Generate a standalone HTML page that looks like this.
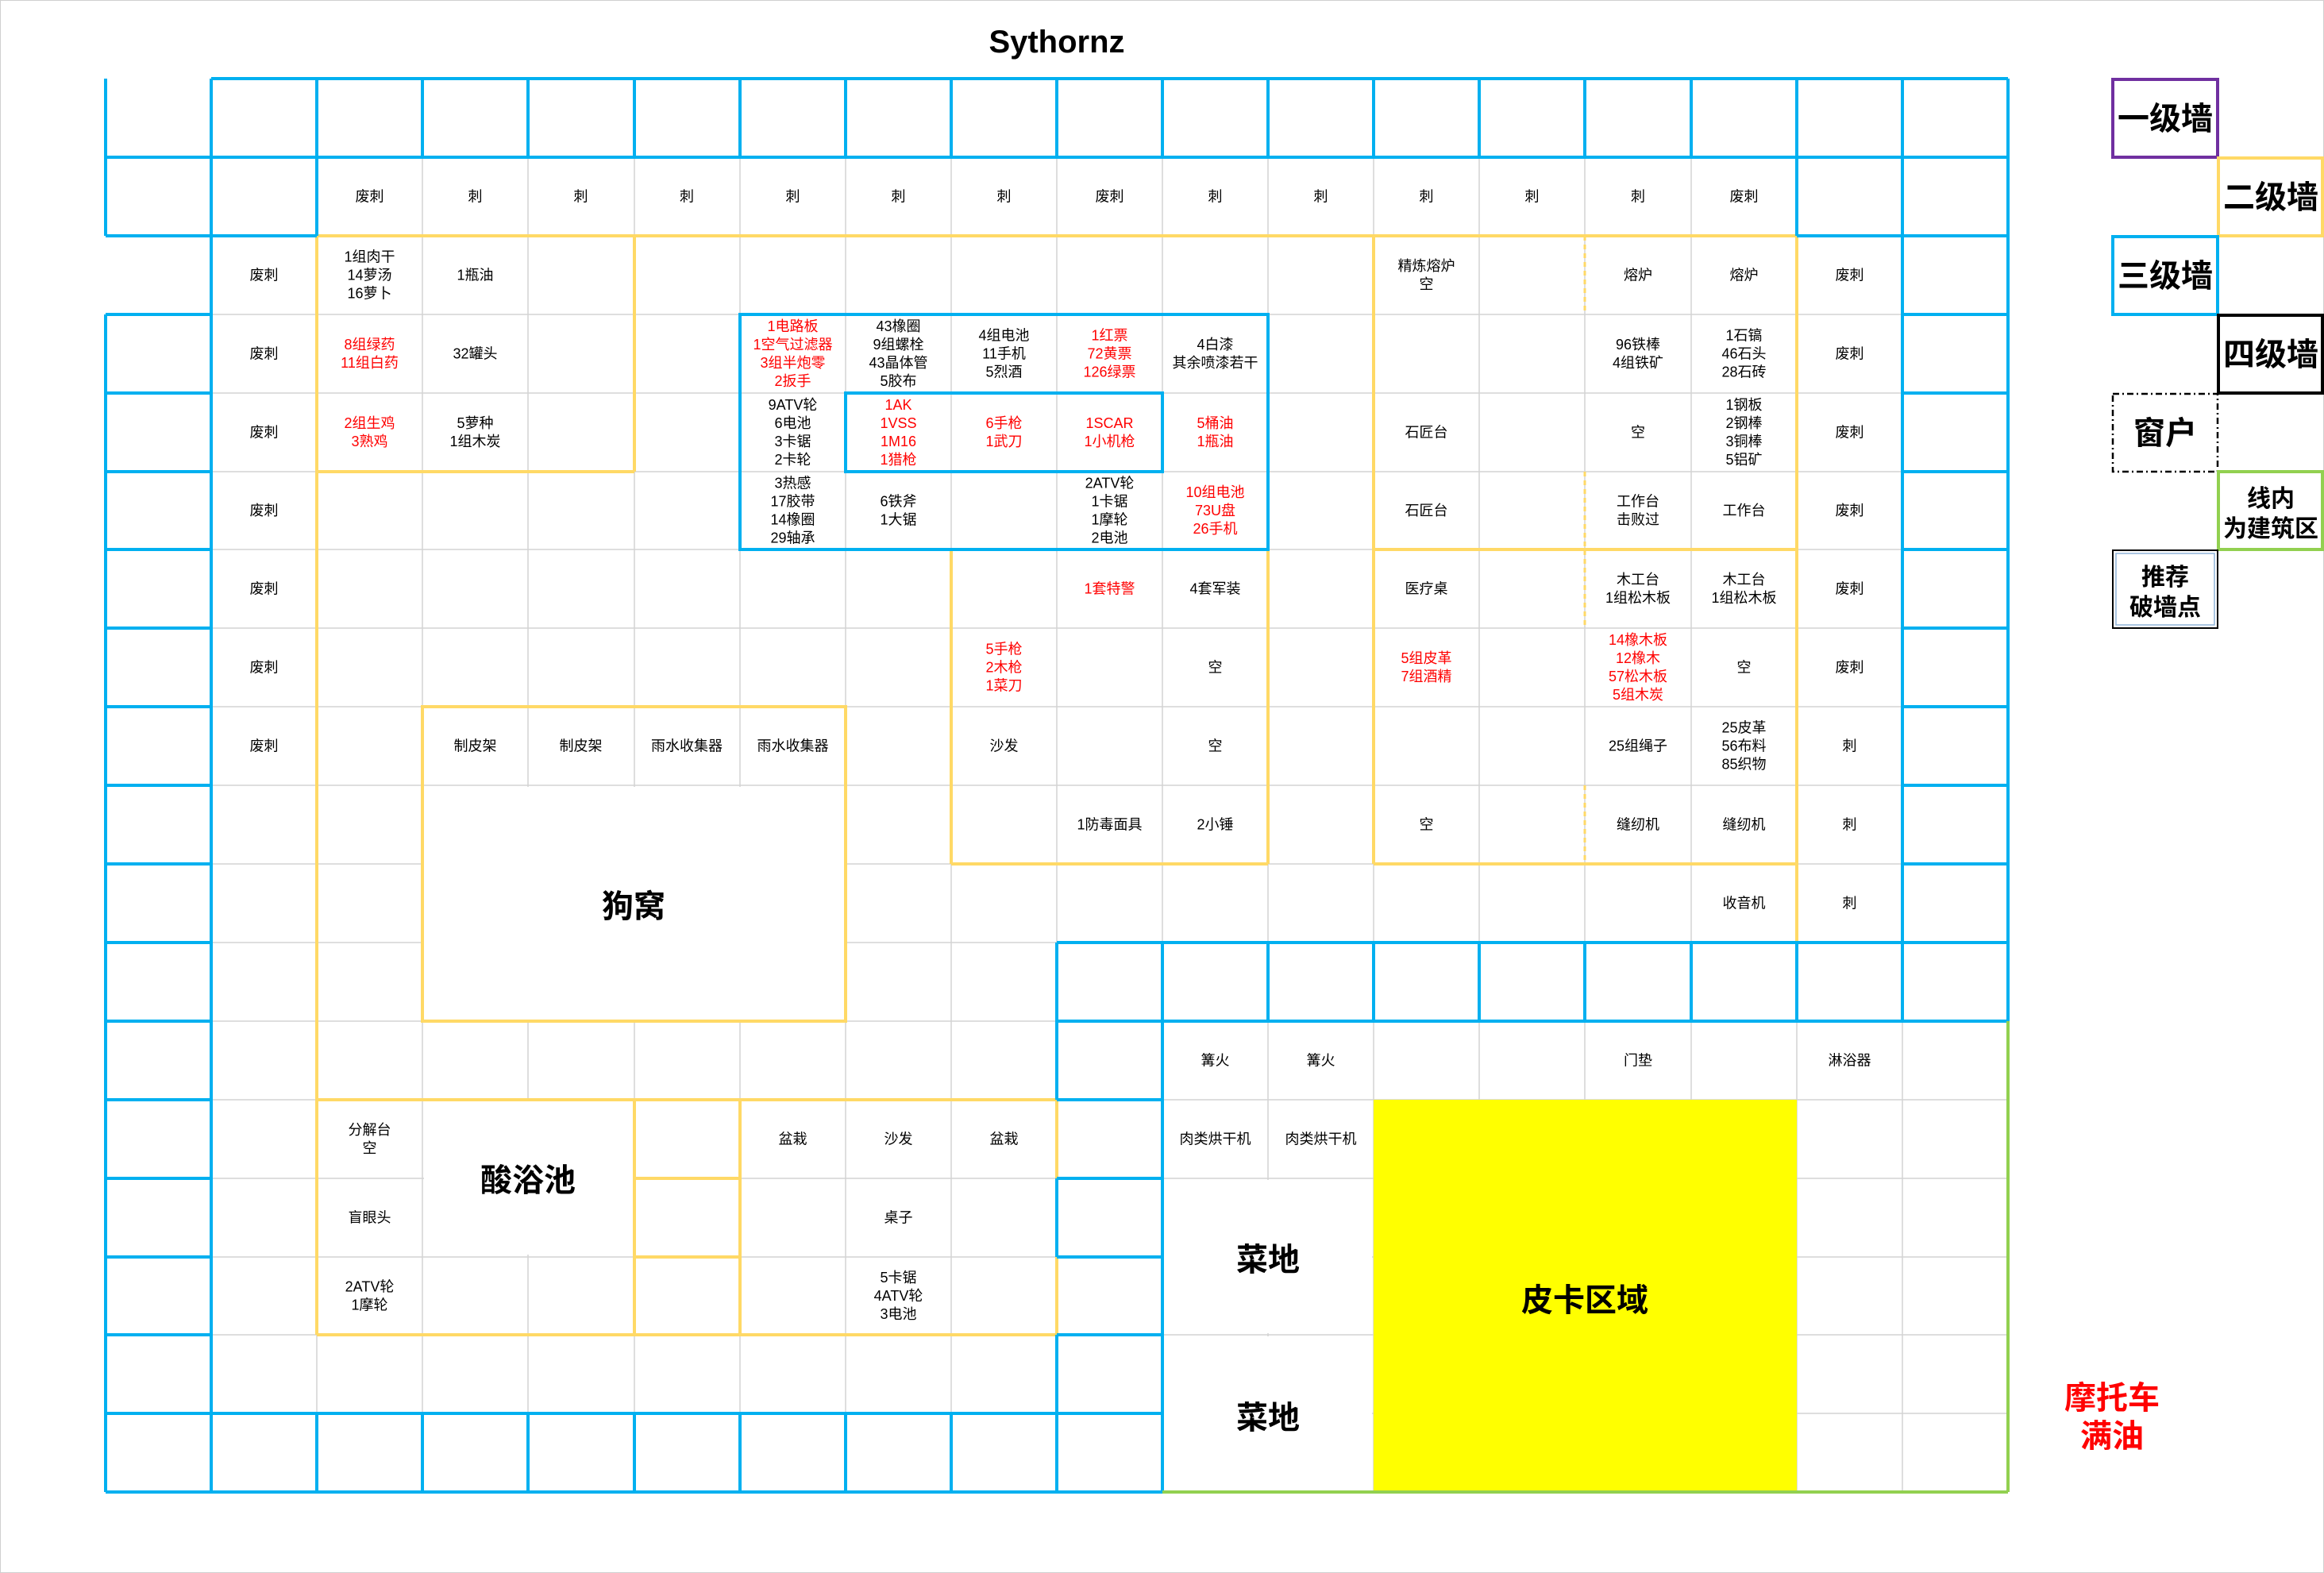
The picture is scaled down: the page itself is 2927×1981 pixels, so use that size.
<!DOCTYPE html>
<html><head><meta charset="utf-8"><style>
html,body{margin:0;padding:0;background:#fff}
svg{display:block}
text{font-family:"Liberation Sans","Noto Sans CJK SC",sans-serif;font-size:18px;text-anchor:middle;fill:#000}
.r{fill:#ff0000}
.big{font-size:40px;font-weight:bold}
.lg{font-size:40px;font-weight:bold}
.lm{font-size:30px;font-weight:bold}
</style></head><body>
<svg width="2927" height="1981" viewBox="0 0 2927 1981" xmlns="http://www.w3.org/2000/svg">
<rect x="0" y="0" width="2927" height="1981" fill="#fff" stroke="#d0d0d0" stroke-width="2"/>
<text x="1331" y="66" style="font-size:40px;font-weight:bold">Sythornz</text>

<!-- gray grid -->
<path stroke="#d4d4d4" stroke-width="1.5" fill="none" d="
M266 99V1879 M399 99V1879 M532 99V1879 M665 99V1879 M799 99V1879 M932 99V1879 M1065 99V1879 M1198 99V1879 M1331 99V1879 M1464 99V1879 M1597 99V1879 M1730 99V1879 M1863 99V1879 M1996 99V1879 M2130 99V1879 M2263 99V1879 M2396 99V1879
M133 198H2529 M266 297H2529 M133 396H2529 M133 495H2529 M133 594H2529 M133 692H2529 M133 791H2529 M133 890H2529 M133 989H2529 M133 1088H2529 M133 1187H2529 M133 1286H2529 M133 1385H2529 M133 1484H2529 M133 1583H2529 M133 1681H2529 M133 1780H2529"/>

<!-- merged white areas -->
<rect x="534" y="991" width="529" height="293" fill="#fff"/>
<rect x="534" y="1387" width="263" height="193" fill="#fff"/>
<rect x="1466" y="1486" width="262" height="193" fill="#fff"/>
<rect x="1466" y="1683" width="262" height="194" fill="#fff"/>
<rect x="1730" y="1385" width="533" height="494" fill="#ffff00"/>

<!-- yellow lines -->
<path stroke="#ffd966" stroke-width="4" fill="none" d="
M399 297H2263 M399 297V1681 M799 297V594 M399 594H799
M1730 297V1088 M2263 297V1187 M1730 692H2263 M1730 1088H2263
M1198 692V1088 M1597 692V1088 M1198 1088H1597
M532 890H1065V1286H532Z
M399 1385H1331 M399 1681H1331 M799 1385V1681 M932 1385V1681 M799 1484H932 M799 1583H932 M1331 1385V1681"/>
<path stroke="#ffd966" stroke-width="3" stroke-dasharray="6 5" fill="none" d="M1996 297V396 M1996 594V791 M1996 989V1088"/>

<!-- blue lines -->
<path stroke="#00b0f0" stroke-width="4" fill="none" d="
M266 99H2529 M133 198H2529 M133 297H399 M2263 297H2529
M133 99V297 M133 396V1879
M133 396H266 M133 495H266 M133 594H266 M133 692H266 M133 791H266 M133 890H266 M133 989H266 M133 1088H266 M133 1187H266 M133 1286H266 M133 1385H266 M133 1484H266 M133 1583H266 M133 1681H266 M133 1780H266
M266 99V1879 M399 99V297
M532 99V198 M665 99V198 M799 99V198 M932 99V198 M1065 99V198 M1198 99V198 M1331 99V198 M1464 99V198 M1597 99V198 M1730 99V198 M1863 99V198 M1996 99V198 M2130 99V198
M2263 99V297 M2396 99V1286 M2529 99V1286
M2396 396H2529 M2396 495H2529 M2396 594H2529 M2396 692H2529 M2396 791H2529 M2396 890H2529 M2396 989H2529 M2396 1088H2529
M1331 1187H2529 M1331 1286H2529
M1464 1187V1286 M1597 1187V1286 M1730 1187V1286 M1863 1187V1286 M1996 1187V1286 M2130 1187V1286 M2263 1187V1286
M1331 1187V1385 M1331 1484V1583 M1331 1681V1879 M1464 1286V1879
M1331 1385H1464 M1331 1484H1464 M1331 1583H1464 M1331 1681H1464
M133 1780H1464 M133 1879H1464
M399 1780V1879 M532 1780V1879 M665 1780V1879 M799 1780V1879 M932 1780V1879 M1065 1780V1879 M1198 1780V1879
M932 396H1597V692H932Z M1065 495H1464V594H1065Z"/>

<!-- green -->
<path stroke="#92d050" stroke-width="4" fill="none" d="M2529 1286V1879 M1464 1879H2529"/>

<!-- row 1 -->
<text x="465.5" y="253.5">废刺</text><text x="598.5" y="253.5">刺</text><text x="731.5" y="253.5">刺</text><text x="865" y="253.5">刺</text><text x="998.5" y="253.5">刺</text><text x="1131.5" y="253.5">刺</text><text x="1264.5" y="253.5">刺</text><text x="1397.5" y="253.5">废刺</text><text x="1530.5" y="253.5">刺</text><text x="1663.5" y="253.5">刺</text><text x="1796.5" y="253.5">刺</text><text x="1929.5" y="253.5">刺</text><text x="2063" y="253.5">刺</text><text x="2196.5" y="253.5">废刺</text>

<!-- col1 废刺 -->
<text x="332.5" y="352.5">废刺</text><text x="332.5" y="451.5">废刺</text><text x="332.5" y="550.5">废刺</text><text x="332.5" y="649">废刺</text><text x="332.5" y="747.5">废刺</text><text x="332.5" y="846.5">废刺</text><text x="332.5" y="945.5">废刺</text>
<!-- col16 -->
<text x="2329.5" y="352.5">废刺</text><text x="2329.5" y="451.5">废刺</text><text x="2329.5" y="550.5">废刺</text><text x="2329.5" y="649">废刺</text><text x="2329.5" y="747.5">废刺</text><text x="2329.5" y="846.5">废刺</text><text x="2329.5" y="945.5">刺</text><text x="2329.5" y="1044.5">刺</text><text x="2329.5" y="1143.5">刺</text>

<!-- row 2 -->
<text x="465.5" y="329.5"><tspan x="465.5">1组肉干</tspan><tspan x="465.5" dy="23">14萝汤</tspan><tspan x="465.5" dy="23">16萝卜</tspan></text>
<text x="598.5" y="352.5">1瓶油</text>
<text x="1796.5" y="341"><tspan x="1796.5">精炼熔炉</tspan><tspan x="1796.5" dy="23">空</tspan></text>
<text x="2063" y="352.5">熔炉</text><text x="2196.5" y="352.5">熔炉</text>

<!-- row 3 -->
<text class="r" x="465.5" y="440"><tspan x="465.5">8组绿药</tspan><tspan x="465.5" dy="23">11组白药</tspan></text>
<text x="598.5" y="451.5">32罐头</text>
<text class="r" x="998.5" y="417"><tspan x="998.5">1电路板</tspan><tspan x="998.5" dy="23">1空气过滤器</tspan><tspan x="998.5" dy="23">3组半炮零</tspan><tspan x="998.5" dy="23">2扳手</tspan></text>
<text x="1131.5" y="417"><tspan x="1131.5">43橡圈</tspan><tspan x="1131.5" dy="23">9组螺栓</tspan><tspan x="1131.5" dy="23">43晶体管</tspan><tspan x="1131.5" dy="23">5胶布</tspan></text>
<text x="1264.5" y="428.5"><tspan x="1264.5">4组电池</tspan><tspan x="1264.5" dy="23">11手机</tspan><tspan x="1264.5" dy="23">5烈酒</tspan></text>
<text class="r" x="1397.5" y="428.5"><tspan x="1397.5">1红票</tspan><tspan x="1397.5" dy="23">72黄票</tspan><tspan x="1397.5" dy="23">126绿票</tspan></text>
<text x="1530.5" y="440"><tspan x="1530.5">4白漆</tspan><tspan x="1530.5" dy="23">其余喷漆若干</tspan></text>
<text x="2063" y="440"><tspan x="2063">96铁棒</tspan><tspan x="2063" dy="23">4组铁矿</tspan></text>
<text x="2196.5" y="428.5"><tspan x="2196.5">1石镐</tspan><tspan x="2196.5" dy="23">46石头</tspan><tspan x="2196.5" dy="23">28石砖</tspan></text>

<!-- row 4 -->
<text class="r" x="465.5" y="539"><tspan x="465.5">2组生鸡</tspan><tspan x="465.5" dy="23">3熟鸡</tspan></text>
<text x="598.5" y="539"><tspan x="598.5">5萝种</tspan><tspan x="598.5" dy="23">1组木炭</tspan></text>
<text x="998.5" y="516"><tspan x="998.5">9ATV轮</tspan><tspan x="998.5" dy="23">6电池</tspan><tspan x="998.5" dy="23">3卡锯</tspan><tspan x="998.5" dy="23">2卡轮</tspan></text>
<text class="r" x="1131.5" y="516"><tspan x="1131.5">1AK</tspan><tspan x="1131.5" dy="23">1VSS</tspan><tspan x="1131.5" dy="23">1M16</tspan><tspan x="1131.5" dy="23">1猎枪</tspan></text>
<text class="r" x="1264.5" y="539"><tspan x="1264.5">6手枪</tspan><tspan x="1264.5" dy="23">1武刀</tspan></text>
<text class="r" x="1397.5" y="539"><tspan x="1397.5">1SCAR</tspan><tspan x="1397.5" dy="23">1小机枪</tspan></text>
<text class="r" x="1530.5" y="539"><tspan x="1530.5">5桶油</tspan><tspan x="1530.5" dy="23">1瓶油</tspan></text>
<text x="1796.5" y="550.5">石匠台</text>
<text x="2063" y="550.5">空</text>
<text x="2196.5" y="516"><tspan x="2196.5">1钢板</tspan><tspan x="2196.5" dy="23">2钢棒</tspan><tspan x="2196.5" dy="23">3铜棒</tspan><tspan x="2196.5" dy="23">5铝矿</tspan></text>

<!-- row 5 -->
<text x="998.5" y="614.5"><tspan x="998.5">3热感</tspan><tspan x="998.5" dy="23">17胶带</tspan><tspan x="998.5" dy="23">14橡圈</tspan><tspan x="998.5" dy="23">29轴承</tspan></text>
<text x="1131.5" y="637.5"><tspan x="1131.5">6铁斧</tspan><tspan x="1131.5" dy="23">1大锯</tspan></text>
<text x="1397.5" y="614.5"><tspan x="1397.5">2ATV轮</tspan><tspan x="1397.5" dy="23">1卡锯</tspan><tspan x="1397.5" dy="23">1摩轮</tspan><tspan x="1397.5" dy="23">2电池</tspan></text>
<text class="r" x="1530.5" y="626"><tspan x="1530.5">10组电池</tspan><tspan x="1530.5" dy="23">73U盘</tspan><tspan x="1530.5" dy="23">26手机</tspan></text>
<text x="1796.5" y="649">石匠台</text>
<text x="2063" y="637.5"><tspan x="2063">工作台</tspan><tspan x="2063" dy="23">击败过</tspan></text>
<text x="2196.5" y="649">工作台</text>

<!-- row 6 -->
<text class="r" x="1397.5" y="747.5">1套特警</text>
<text x="1530.5" y="747.5">4套军装</text>
<text x="1796.5" y="747.5">医疗桌</text>
<text x="2063" y="736"><tspan x="2063">木工台</tspan><tspan x="2063" dy="23">1组松木板</tspan></text>
<text x="2196.5" y="736"><tspan x="2196.5">木工台</tspan><tspan x="2196.5" dy="23">1组松木板</tspan></text>

<!-- row 7 -->
<text class="r" x="1264.5" y="823.5"><tspan x="1264.5">5手枪</tspan><tspan x="1264.5" dy="23">2木枪</tspan><tspan x="1264.5" dy="23">1菜刀</tspan></text>
<text x="1530.5" y="846.5">空</text>
<text class="r" x="1796.5" y="835"><tspan x="1796.5">5组皮革</tspan><tspan x="1796.5" dy="23">7组酒精</tspan></text>
<text class="r" x="2063" y="812"><tspan x="2063">14橡木板</tspan><tspan x="2063" dy="23">12橡木</tspan><tspan x="2063" dy="23">57松木板</tspan><tspan x="2063" dy="23">5组木炭</tspan></text>
<text x="2196.5" y="846.5">空</text>

<!-- row 8 -->
<text x="598.5" y="945.5">制皮架</text><text x="731.5" y="945.5">制皮架</text><text x="865" y="945.5">雨水收集器</text><text x="998.5" y="945.5">雨水收集器</text>
<text x="1264.5" y="945.5">沙发</text>
<text x="1530.5" y="945.5">空</text>
<text x="2063" y="945.5">25组绳子</text>
<text x="2196.5" y="922.5"><tspan x="2196.5">25皮革</tspan><tspan x="2196.5" dy="23">56布料</tspan><tspan x="2196.5" dy="23">85织物</tspan></text>

<!-- row 9 -->
<text x="1397.5" y="1044.5">1防毒面具</text><text x="1530.5" y="1044.5">2小锤</text>
<text x="1796.5" y="1044.5">空</text>
<text x="2063" y="1044.5">缝纫机</text><text x="2196.5" y="1044.5">缝纫机</text>
<!-- row 10 -->
<text x="2196.5" y="1143.5">收音机</text>

<!-- row 12 -->
<text x="1530.5" y="1341.5">篝火</text><text x="1663.5" y="1341.5">篝火</text>
<text x="2063" y="1341.5">门垫</text><text x="2329.5" y="1341.5">淋浴器</text>

<!-- row 13 -->
<text x="465.5" y="1429"><tspan x="465.5">分解台</tspan><tspan x="465.5" dy="23">空</tspan></text>
<text x="998.5" y="1440.5">盆栽</text><text x="1131.5" y="1440.5">沙发</text><text x="1264.5" y="1440.5">盆栽</text>
<text x="1530.5" y="1440.5">肉类烘干机</text><text x="1663.5" y="1440.5">肉类烘干机</text>
<!-- row 14 -->
<text x="465.5" y="1539.5">盲眼头</text><text x="1131.5" y="1539.5">桌子</text>
<!-- row 15 -->
<text x="465.5" y="1626.5"><tspan x="465.5">2ATV轮</tspan><tspan x="465.5" dy="23">1摩轮</tspan></text>
<text x="1131.5" y="1615"><tspan x="1131.5">5卡锯</tspan><tspan x="1131.5" dy="23">4ATV轮</tspan><tspan x="1131.5" dy="23">3电池</tspan></text>

<!-- big labels -->
<text class="big" x="798" y="1155">狗窝</text>
<text class="big" x="665" y="1500">酸浴池</text>
<text class="big" x="1597" y="1600">菜地</text>
<text class="big" x="1597" y="1799">菜地</text>
<text class="big" x="1996" y="1651">皮卡区域</text>
<text class="big r" x="2660" y="1774" style="fill:#ff0000">摩托车</text>
<text class="big r" x="2660" y="1822" style="fill:#ff0000">满油</text>

<!-- legend -->
<rect x="2661" y="100" width="132" height="98" fill="none" stroke="#7030a0" stroke-width="4"/>
<text class="lg" x="2727" y="163">一级墙</text>
<rect x="2794" y="199" width="131" height="98" fill="none" stroke="#ffd966" stroke-width="4"/>
<text class="lg" x="2860" y="262">二级墙</text>
<rect x="2661" y="298" width="132" height="98" fill="none" stroke="#00b0f0" stroke-width="4"/>
<text class="lg" x="2727" y="361">三级墙</text>
<rect x="2794" y="397" width="131" height="98" fill="none" stroke="#000" stroke-width="4"/>
<text class="lg" x="2860" y="460">四级墙</text>
<rect x="2661" y="496" width="132" height="98" fill="none" stroke="#000" stroke-width="2.5" stroke-dasharray="8 4 2 4"/>
<text class="lg" x="2727" y="559">窗户</text>
<rect x="2794" y="594" width="131" height="98" fill="none" stroke="#92d050" stroke-width="4"/>
<text class="lm" x="2860" y="638">线内</text>
<text class="lm" x="2860" y="676">为建筑区</text>
<rect x="2661" y="693" width="132" height="98" fill="none" stroke="#000" stroke-width="2"/>
<rect x="2665" y="697" width="124" height="90" fill="none" stroke="#8fb4d8" stroke-width="1.5"/>
<text class="lm" x="2727" y="737">推荐</text>
<text class="lm" x="2727" y="775">破墙点</text>
</svg>
</body></html>
